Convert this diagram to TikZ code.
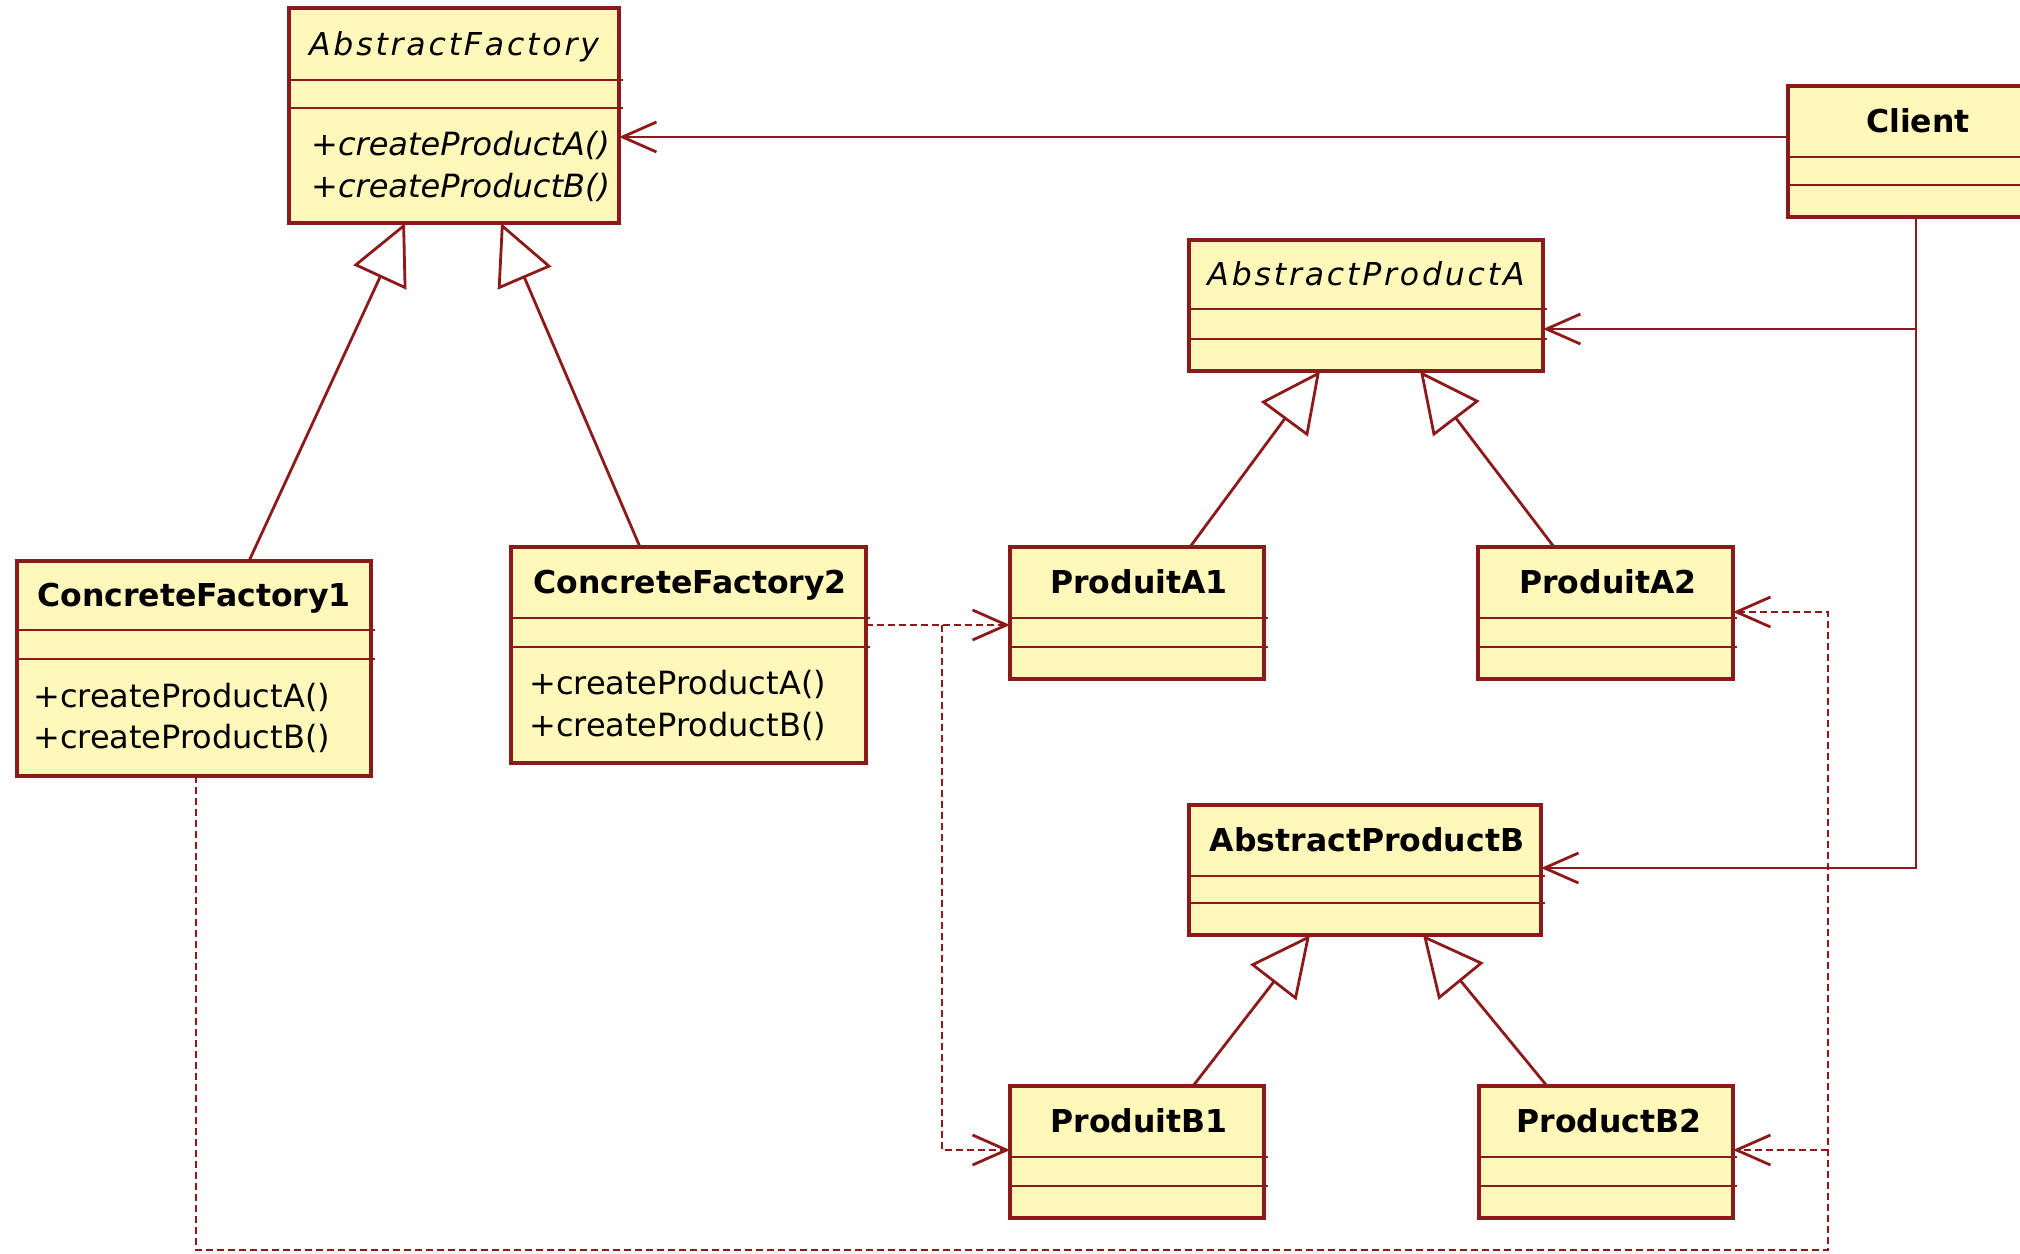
\documentclass[tikz,border=0pt]{standalone}
\usepackage{fontspec}
\setmainfont{DejaVu Sans}
\usetikzlibrary{arrows.meta,calc}
\definecolor{umlred}{RGB}{140,26,26}
\definecolor{umlfill}{RGB}{255,248,186}
\tikzset{
  cls/.style={draw=umlred, fill=umlfill, line width=3.2pt, rectangle, inner sep=0pt, outer sep=0pt, anchor=north west},
  ttl/.style={font=\fontsize{31.5}{38}\selectfont\bfseries, inner sep=0pt, text height=23pt, text depth=0pt},
  ttlit/.style={font=\fontsize{31.5}{38}\selectfont\itshape\addfontfeature{LetterSpace=9}, inner sep=0pt, text height=23pt, text depth=0pt},
  mth/.style={font=\fontsize{32}{38}\selectfont, inner sep=0pt, anchor=west, text height=23pt, text depth=0pt},
  mthit/.style={mth, font=\fontsize{32}{38}\selectfont\itshape},
  sepline/.style={draw=umlred, line width=2.6pt},
  assoc/.style={draw=umlred, line width=2.8pt, -{Straight Barb[length=34pt,width=30pt,line width=2.8pt]}},
  inh/.style={draw=umlred, line width=2.8pt, -{Triangle[open,length=60pt,width=58pt,line width=2.8pt]}},
  dep/.style={assoc, dash pattern=on 7pt off 4pt},
}
\newcommand\umlclass[7]{%
  \node[cls, minimum width={#4pt-#2pt}, minimum height={#5pt-#3pt}] (#1) at (#2,#3) {};
  \draw[sepline] (#2,#6) -- (#4+4,#6) (#2,#7) -- (#4+4,#7);
}
\begin{document}
\begin{tikzpicture}[x=1pt,y=-1pt]
\useasboundingbox (0,0) rectangle (2020,1253);
\clip (0,0) rectangle (2020,1253);

% classes
\umlclass{af}{289}{8}{619}{223}{80}{108}
\node[ttlit] (aft) at (454,44) {AbstractFactory};
\node[mthit] (afm1) at (311,144) {+createProductA()};
\node[mthit] (afm2) at (311,186) {+createProductB()};

\umlclass{client}{1788}{86}{2048}{217}{157}{185}
\node[ttl] (clientt) at (1918,121) {Client};

\umlclass{apa}{1189}{240}{1543}{371}{309}{339}
\node[ttlit] (apat) at (1366,274) {AbstractProductA};

\umlclass{pa1}{1010}{547}{1264}{679}{618}{647}
\node[ttl] (pa1t) at (1139,582) {ProduitA1};

\umlclass{pa2}{1478}{547}{1733}{679}{618}{647}
\node[ttl] (pa2t) at (1608,582) {ProduitA2};

\umlclass{cf1}{17}{561}{371}{776}{630}{659}
\node[ttl] (cf1t) at (194,595) {ConcreteFactory1};
\node[mth] (cf1m1) at (33,696) {+createProductA()};
\node[mth] (cf1m2) at (33,737) {+createProductB()};

\umlclass{cf2}{511}{547}{866}{763}{618}{647}
\node[ttl] (cf2t) at (690,582) {ConcreteFactory2};
\node[mth] (cf2m1) at (529,683) {+createProductA()};
\node[mth] (cf2m2) at (529,725) {+createProductB()};

\umlclass{apb}{1189}{805}{1541}{935}{876}{903}
\node[ttl] (apbt) at (1367,840) {AbstractProductB};

\umlclass{pb1}{1010}{1086}{1264}{1218}{1157}{1186}
\node[ttl] (pb1t) at (1139,1121) {ProduitB1};

\umlclass{pb2}{1479}{1086}{1733}{1218}{1157}{1186}
\node[ttl] (pb2t) at (1609,1121) {ProductB2};

% associations from Client
\draw[assoc] ($(client.north west)+(0,51)$) -- ($(af.north east)+(0,129)$);
\coordinate (cv) at ($(client.south west)+(128,0)$);
\draw[assoc] (cv) |- ($(apa.north east)+(0,89)$);
\draw[assoc] (cv) |- ($(apb.north east)+(0,63)$);

% generalisations
\draw[inh] ($(cf1.north west)+(232,0)$) -- ($(af.south west)+(116,0)$);
\draw[inh] ($(cf2.north west)+(129,0)$) -- ($(af.south west)+(212,0)$);
\draw[inh] ($(pa1.north west)+(180,0)$) -- ($(apa.south west)+(131,0)$);
\draw[inh] ($(pa2.north west)+(76,0)$) -- ($(apa.south west)+(231,0)$);
\draw[inh] ($(pb1.north west)+(183,0)$) -- ($(apb.south west)+(121,0)$);
\draw[inh] ($(pb2.north west)+(68,0)$) -- ($(apb.south west)+(234,0)$);

% dependencies
\draw[dep] ($(cf2.north east)+(0,78)$) -- ($(pa1.north west)+(0,78)$);
\coordinate (d1) at ($(cf2.north east)+(76,78)$);
\draw[dep] (d1) |- ($(pb1.north west)+(0,64)$);
\coordinate (d2) at ($(cf1.south west)+(179,0)$);
\coordinate (d3) at ($(pa2.north east)+(95,703)$);
\draw[dep] (d2) |- (d3) |- ($(pa2.north east)+(0,65)$);
\coordinate (d4) at ($(pb2.north east)+(95,64)$);
\draw[dep] (d4) -- ($(pb2.north east)+(0,64)$);
\end{tikzpicture}
\end{document}
